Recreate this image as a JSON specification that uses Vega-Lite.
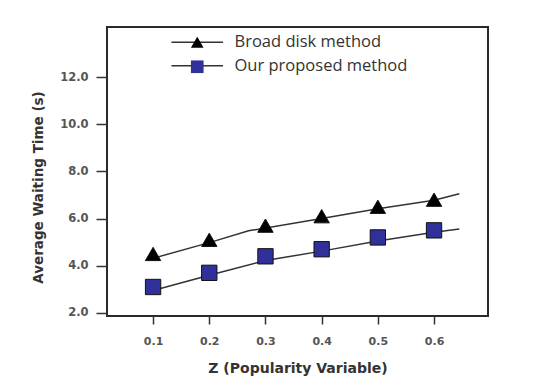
{
  "$schema": "https://vega.github.io/schema/vega-lite/v6.json",
  "width": 381,
  "height": 289,
  "autosize": {"type": "none"},
  "padding": {"left": 107, "top": 27, "right": 57, "bottom": 67},
  "background": "white",
  "config": {
    "view": {"stroke": "#2a2a2a", "strokeWidth": 2},
    "axis": {
      "grid": false,
      "domain": false,
      "tickColor": "#333",
      "tickWidth": 1.5,
      "labelFont": "DejaVu Sans",
      "labelFontWeight": "bold",
      "labelFontSize": 11,
      "labelColor": "#555",
      "titleFont": "DejaVu Sans",
      "titleFontWeight": "bold",
      "titleColor": "#333"
    }
  },
  "datasets": {
    "markers": [
      {"z": 0.1, "time": 4.5, "series": "Broad disk method"},
      {"z": 0.2, "time": 5.1, "series": "Broad disk method"},
      {"z": 0.3, "time": 5.7, "series": "Broad disk method"},
      {"z": 0.4, "time": 6.1, "series": "Broad disk method"},
      {"z": 0.5, "time": 6.5, "series": "Broad disk method"},
      {"z": 0.6, "time": 6.8, "series": "Broad disk method"},
      {"z": 0.1, "time": 3.1, "series": "Our proposed method"},
      {"z": 0.2, "time": 3.7, "series": "Our proposed method"},
      {"z": 0.3, "time": 4.4, "series": "Our proposed method"},
      {"z": 0.4, "time": 4.7, "series": "Our proposed method"},
      {"z": 0.5, "time": 5.2, "series": "Our proposed method"},
      {"z": 0.6, "time": 5.5, "series": "Our proposed method"}
    ],
    "curves": [
      {"z": 0.09, "time": 4.25, "method": "Broad disk method"},
      {"z": 0.2, "time": 4.98, "method": "Broad disk method"},
      {"z": 0.27, "time": 5.48, "method": "Broad disk method"},
      {"z": 0.4, "time": 6.0, "method": "Broad disk method"},
      {"z": 0.5, "time": 6.42, "method": "Broad disk method"},
      {"z": 0.6, "time": 6.78, "method": "Broad disk method"},
      {"z": 0.645, "time": 7.05, "method": "Broad disk method"},
      {"z": 0.1, "time": 2.95, "method": "Our proposed method"},
      {"z": 0.2, "time": 3.6, "method": "Our proposed method"},
      {"z": 0.3, "time": 4.22, "method": "Our proposed method"},
      {"z": 0.4, "time": 4.62, "method": "Our proposed method"},
      {"z": 0.5, "time": 5.05, "method": "Our proposed method"},
      {"z": 0.6, "time": 5.42, "method": "Our proposed method"},
      {"z": 0.645, "time": 5.56, "method": "Our proposed method"}
    ]
  },
  "encoding": {
    "x": {
      "field": "z",
      "type": "quantitative",
      "scale": {"domain": [0.018, 0.696], "nice": false, "zero": false},
      "axis": {
        "values": [0.1, 0.2, 0.3, 0.4, 0.5, 0.6],
        "format": ".1f",
        "tickSize": 8,
        "labelPadding": 11,
        "title": "Z (Popularity Variable)",
        "titleFontSize": 14,
        "titlePadding": 15
      }
    },
    "y": {
      "field": "time",
      "type": "quantitative",
      "scale": {"domain": [1.87, 14.12], "nice": false, "zero": false},
      "axis": {
        "values": [2, 4, 6, 8, 10, 12],
        "format": ".1f",
        "tickSize": 11,
        "labelPadding": 8,
        "labelFontSize": 11.5,
        "title": "Average Waiting Time (s)",
        "titleFontSize": 13.5,
        "titlePadding": 14,
        "titleY": 160
      }
    }
  },
  "layer": [
    {
      "data": {"name": "curves"},
      "mark": {"type": "line", "strokeWidth": 1.5},
      "encoding": {
        "stroke": {
          "field": "method",
          "type": "nominal",
          "scale": {"range": ["#333333", "#333333"]},
          "legend": {
            "orient": "none",
            "legendX": 82,
            "legendY": 7,
            "title": null,
            "padding": 0,
            "symbolType": "M-4.3,0H4.3",
            "symbolSize": 144,
            "symbolStrokeWidth": 1.5,
            "symbolStrokeColor": "#333333",
            "labelFont": "Open Sans",
            "labelFontSize": 16.5,
            "labelColor": "#333",
            "labelLimit": 400,
            "labelOffset": 29,
            "rowPadding": 6.5,
            "zindex": 0
          }
        }
      }
    },
    {
      "data": {"name": "markers"},
      "mark": {"type": "point", "filled": true, "stroke": "#111", "strokeWidth": 1, "opacity": 1, "size": 235},
      "encoding": {
        "shape": {
          "field": "series",
          "type": "nominal",
          "scale": {"range": ["triangle-up", "square"]},
          "legend": {
            "orient": "none",
            "legendX": 82,
            "legendY": 7,
            "title": null,
            "padding": 0,
            "symbolSize": 160,
            "symbolStrokeColor": "#111",
            "symbolStrokeWidth": 1,
            "labelFont": "Open Sans",
            "labelFontSize": 16.5,
            "labelColor": "transparent",
            "labelLimit": 400,
            "labelOffset": 29,
            "rowPadding": 6.5,
            "zindex": 1
          }
        },
        "fill": {
          "field": "series",
          "type": "nominal",
          "scale": {"range": ["#000000", "#30309a"]},
          "legend": {
            "orient": "none",
            "legendX": 82,
            "legendY": 7,
            "title": null,
            "padding": 0,
            "symbolSize": 160,
            "symbolStrokeColor": "#111",
            "symbolStrokeWidth": 1,
            "labelFont": "Open Sans",
            "labelFontSize": 16.5,
            "labelColor": "transparent",
            "labelLimit": 400,
            "labelOffset": 29,
            "rowPadding": 6.5,
            "zindex": 1
          }
        }
      }
    }
  ]
}
